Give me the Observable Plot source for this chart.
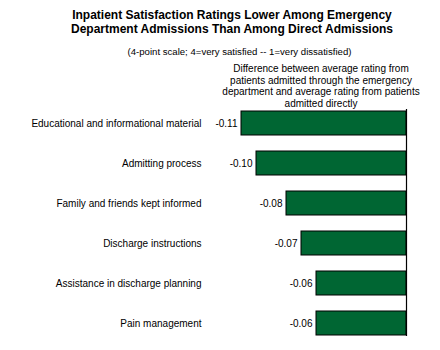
<!DOCTYPE html>
<html>
<head>
<meta charset="utf-8">
<script src="https://cdn.jsdelivr.net/npm/d3@7"></script>
<script src="https://cdn.jsdelivr.net/npm/@observablehq/plot@0.6"></script>
<style>
  html, body { margin: 0; padding: 0; background: #fff; }
  body { width: 440px; height: 350px; position: relative; overflow: hidden;
         font-family: "Liberation Sans", Arial, Helvetica, sans-serif; color: #000; }
  #title { position: absolute; left: 0; top: 9px; width: 464px; text-align: center;
           font-weight: bold; font-size: 12px; line-height: 13.5px; }
  #subtitle { position: absolute; left: 0; top: 46px; width: 479px; text-align: center;
              font-size: 9.6px; line-height: 12px; }
  #header { position: absolute; left: 211px; top: 63px; width: 220px; text-align: center;
            font-size: 10px; line-height: 11.7px; z-index: 2; }
  #chart { position: absolute; left: 0; top: 100px; z-index: 1; }
</style>
</head>
<body>
<div id="title">Inpatient Satisfaction Ratings Lower Among Emergency<br>Department Admissions Than Among Direct Admissions</div>
<div id="subtitle">(4-point scale; 4=very satisfied -- 1=very dissatisfied)</div>
<div id="header">Difference between average rating from<br>patients admitted through the emergency<br>department and average rating from patients<br>admitted directly</div>
<div id="chart"></div>
<script>
const categories = [
  "Educational and informational material",
  "Admitting process",
  "Family and friends kept informed",
  "Discharge instructions",
  "Assistance in discharge planning",
  "Pain management"
];
const differences = [-0.11, -0.10, -0.08, -0.07, -0.06, -0.06];

const data = categories.map((c, i) => ({category: c, value: differences[i]}));

const chart = Plot.plot({
  width: 440,
  height: 250,
  marginTop: 3,
  marginBottom: 7,
  marginLeft: 226,
  marginRight: 34,
  style: {fontFamily: '"Liberation Sans", Arial, sans-serif', fontSize: "10px", color: "#000", background: "transparent"},
  x: {domain: [-0.12, 0], axis: null},
  y: {domain: categories, paddingInner: 0.4, paddingOuter: 0.2, label: null},
  marks: [
    Plot.axisY({tickSize: 0, tickPadding: 25, fontSize: 10, label: null}),
    Plot.barX(data, {y: "category", x: "value", fill: "#006633", stroke: "#000", strokeWidth: 1}),
    Plot.ruleX([0], {stroke: "#000", strokeWidth: 1.2, insetTop: 6, insetBottom: 7}),
    Plot.text(data, {y: "category", x: "value", text: d => d.value.toFixed(2),
                     textAnchor: "end", dx: -4, fontSize: 10, fill: "#000"})
  ]
});
document.getElementById("chart").appendChild(chart);
</script>
</body>
</html>
